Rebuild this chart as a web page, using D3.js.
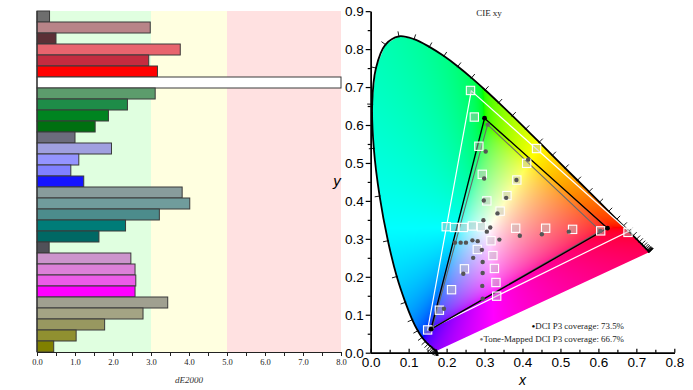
<!DOCTYPE html>
<html><head><meta charset="utf-8">
<script src="https://cdn.jsdelivr.net/npm/d3@7"></script>
<style>html,body{margin:0;padding:0;background:#fff;} svg{display:block}</style>
</head><body>
<svg id="c" width="693" height="390"></svg>
<script>
// ---------- data: dE2000 bar chart ----------
const patchColors = ["#6e6e6e","#b88488","#5c3036","#e8646e","#c42c40","#ff0000","#ffffff",
  "#5c9c6c","#1e8c48","#008420","#007010","#6c6c7c","#a0a0e0","#9494ff","#8080ff","#1414ff",
  "#889c9c","#709c9c","#4c8c8c","#007c78","#006864","#505058","#cc94cc","#dc80d8","#ec5ce8",
  "#ff00ff","#a0a090","#a4a484","#989860","#909030","#808000"];
const dE2000 = [0.33,2.98,0.50,3.77,2.94,3.17,8.0,3.11,2.38,1.88,1.53,1.00,1.96,1.10,0.89,1.23,
  3.82,4.02,3.22,2.33,1.63,0.32,2.47,2.58,2.60,2.58,3.44,2.79,1.78,1.03,0.44];
const bandStarts = [0,3,5];
const bandEnds = [3,5,8];
const bandFills = ["#e0ffe0","#ffffe0","#ffe1e1"];
const deTicks = [0,0.5,1,1.5,2,2.5,3,3.5,4,4.5,5,5.5,6,6.5,7,7.5,8];

// ---------- data: CIE xy ----------
const locusNm = [380,385,390,395,400,405,410,415,420,425,430,435,440,445,450,455,460,465,470,475,480,485,490,495,500,505,510,515,520,525,530,535,540,545,550,555,560,565,570,575,580,585,590,595,600,605,610,615,620,625,630,635,640,645,650,655,660,665,670,675,680,685,690,695,700];
const locusX = [0.1741,0.1740,0.1738,0.1736,0.1733,0.1730,0.1726,0.1721,0.1714,0.1703,0.1689,0.1669,0.1644,0.1611,0.1566,0.1510,0.1440,0.1355,0.1241,0.1096,0.0913,0.0687,0.0454,0.0235,0.0082,0.0039,0.0139,0.0389,0.0743,0.1142,0.1547,0.1929,0.2296,0.2658,0.3016,0.3373,0.3731,0.4087,0.4441,0.4788,0.5125,0.5448,0.5752,0.6029,0.6270,0.6482,0.6658,0.6801,0.6915,0.7006,0.7079,0.7140,0.7190,0.7230,0.7260,0.7283,0.7300,0.7311,0.7320,0.7327,0.7334,0.7340,0.7344,0.7346,0.7347];
const locusY = [0.0050,0.0050,0.0049,0.0049,0.0048,0.0048,0.0048,0.0048,0.0051,0.0058,0.0069,0.0086,0.0109,0.0138,0.0177,0.0227,0.0297,0.0399,0.0578,0.0868,0.1327,0.2007,0.2950,0.4127,0.5384,0.6548,0.7502,0.8120,0.8338,0.8262,0.8059,0.7816,0.7543,0.7243,0.6923,0.6589,0.6245,0.5896,0.5547,0.5202,0.4866,0.4544,0.4242,0.3965,0.3725,0.3514,0.3340,0.3197,0.3083,0.2993,0.2920,0.2859,0.2809,0.2770,0.2740,0.2717,0.2700,0.2689,0.2680,0.2673,0.2666,0.2660,0.2656,0.2654,0.2653];

const p3X = [0.680,0.265,0.150];
const p3Y = [0.320,0.690,0.060];
const measGamutX = [0.624,0.300,0.159];
const measGamutY = [0.328,0.618,0.062];
const toneGamutX = [0.605,0.308,0.162];
const toneGamutY = [0.321,0.601,0.064];

const targetX = [0.263,0.273,0.285,0.294,0.306,0.341,0.359,0.385,0.411,0.437,0.199,0.221,0.244,0.268,0.292,0.317,0.281,0.322,0.326,0.247,0.330,0.213,0.332,0.382,0.461,0.532,0.606,0.678,0.181,0.150];
const targetY = [0.691,0.621,0.544,0.470,0.400,0.373,0.414,0.455,0.499,0.538,0.332,0.330,0.330,0.334,0.332,0.295,0.272,0.256,0.222,0.221,0.185,0.166,0.149,0.328,0.328,0.325,0.321,0.317,0.112,0.060];
const measX = [0.303,0.299,0.298,0.334,0.357,0.384,0.415,0.297,0.315,0.306,0.222,0.237,0.251,0.268,0.282,0.339,0.293,0.270,0.295,0.295,0.244,0.294,0.393,0.451,0.522,0.295,0.193];
const measY = [0.530,0.459,0.401,0.367,0.408,0.455,0.509,0.349,0.330,0.319,0.290,0.290,0.290,0.296,0.294,0.298,0.271,0.250,0.239,0.210,0.208,0.176,0.308,0.312,0.319,0.142,0.116];
const xyTicks = [0,0.1,0.2,0.3,0.4,0.5,0.6,0.7,0.8];
const yTicks = [0,0.1,0.2,0.3,0.4,0.5,0.6,0.7,0.8,0.9];
const legendLabels = ["DCI P3 coverage: 73.5%","Tone-Mapped DCI P3 coverage: 66.7%"];

const svg = d3.select("#c");
svg.append("rect").attr("width",693).attr("height",390).attr("fill","#fff");
const SERIF = "'Liberation Serif','Times New Roman',serif";
const SANS = "'Liberation Sans',Arial,sans-serif";

// ===== Left: bar chart =====
const xDE = d3.scaleLinear().domain([0,8]).range([37,341]);
const yBar = d3.scaleBand().domain(d3.range(dE2000.length)).range([11,352]).padding(0);
const L = svg.append("g");
L.selectAll("rect.band").data(bandStarts).join("rect")
  .attr("x",(d)=>xDE(d)).attr("y",11)
  .attr("width",(d,i)=>xDE(bandEnds[i])-xDE(d)).attr("height",341)
  .attr("fill",(d,i)=>bandFills[i]);
L.selectAll("rect.bar").data(dE2000).join("rect")
  .attr("x",xDE(0)).attr("y",(d,i)=>yBar(i))
  .attr("width",d=>xDE(Math.min(d,8))-xDE(0)).attr("height",yBar.bandwidth())
  .attr("fill",(d,i)=>patchColors[i]).attr("stroke","#3a3a3a").attr("stroke-width",1);
L.append("line").attr("x1",37).attr("x2",37).attr("y1",11).attr("y2",352).attr("stroke","#333").attr("stroke-width",1.2);
const axL = L.append("g").attr("transform","translate(0,352)")
  .call(d3.axisBottom(xDE).tickValues(deTicks).tickSize(4).tickSizeOuter(0).tickPadding(3)
    .tickFormat(d=> Number.isInteger(d)? d.toFixed(1):""));
axL.select(".domain").attr("stroke","#222").attr("stroke-width",1.2);
axL.selectAll(".tick line").attr("stroke","#222");
axL.selectAll("text").attr("font-family",SERIF).attr("font-size",8.5).attr("fill","#222");
L.append("text").attr("x",189).attr("y",383).attr("text-anchor","middle")
  .attr("font-family",SERIF).attr("font-style","italic").attr("font-size",9).attr("fill","#333").text("dE2000");

// ===== Right: CIE xy =====
const sx = d3.scaleLinear().domain([0,0.8]).range([370.7,674.3]);
const sy = d3.scaleLinear().domain([0,0.9]).range([352.7,11.15]);
const R = svg.append("g");

// colour fill via canvas
const x0 = Math.floor(sx(0)), x1 = Math.ceil(sx(0.74)), y0 = Math.floor(sy(0.84)), y1 = Math.ceil(sy(0));
const W = x1-x0, H = y1-y0;
const cv = document.createElement("canvas"); cv.width=W; cv.height=H;
const ctx = cv.getContext("2d");
const img = ctx.createImageData(W,H);
const gam = v => v<=0.0031308 ? 12.92*v : 1.055*Math.pow(v,1/2.4)-0.055;
for(let j=0;j<H;j++){
  const yy = sy.invert(y0+j+0.5);
  for(let i=0;i<W;i++){
    const xx = sx.invert(x0+i+0.5);
    const k = (j*W+i)*4;
    const yv = Math.max(yy,0.001);
    const X = xx/yv, Y=1, Z=(1-xx-yv)/yv;
    let r = 3.2406*X-1.5372*Y-0.4986*Z;
    let g = -0.9689*X+1.8758*Y+0.0415*Z;
    let b = 0.0557*X-0.2040*Y+1.0570*Z;
    const mn = Math.min(r,g,b,0);
    r-=mn; g-=mn; b-=mn;
    const m = Math.max(r,g,b,1e-6);
    img.data[k]=Math.round(255*gam(r/m));
    img.data[k+1]=Math.round(255*gam(g/m));
    img.data[k+2]=Math.round(255*gam(b/m));
    img.data[k+3]=255;
  }
}
ctx.putImageData(img,0,0);
const locusPts = locusX.map((x,i)=>[sx(x),sy(locusY[i])]);
R.append("clipPath").attr("id","locclip").append("path")
  .attr("d", d3.line()(locusPts)+"Z");
R.append("image").attr("href",cv.toDataURL()).attr("x",x0).attr("y",y0)
  .attr("width",W).attr("height",H).attr("clip-path","url(#locclip)");

// locus outline
R.append("path").attr("d",d3.line().curve(d3.curveCatmullRom)(locusPts)).attr("fill","none")
  .attr("stroke","#000").attr("stroke-width",1.8);
// wavelength ticks
const tickG = R.append("g").attr("stroke","#000").attr("stroke-width",0.9);
locusPts.forEach((p,i)=>{
  const a = locusPts[Math.max(i-1,0)], b = locusPts[Math.min(i+1,locusPts.length-1)];
  let tx=b[0]-a[0], ty=b[1]-a[1]; const len=Math.hypot(tx,ty);
  if(len<1e-9) return;
  const nx = ty/len, ny = -tx/len;
  tickG.append("line").attr("x1",p[0]-nx*1).attr("y1",p[1]-ny*1)
    .attr("x2",p[0]+nx*5).attr("y2",p[1]+ny*5);
});

// gamut triangles
const tri = (xs,ys)=> d3.line()(xs.map((x,i)=>[sx(x),sy(ys[i])]))+"Z";
R.append("path").attr("d",tri(p3X,p3Y)).attr("fill","none").attr("stroke","#fff").attr("stroke-width",1.2);
R.append("path").attr("d",tri(toneGamutX,toneGamutY)).attr("fill","none").attr("stroke","#6a6a6a").attr("stroke-width",1.1);
R.append("path").attr("d",tri(measGamutX,measGamutY)).attr("fill","none").attr("stroke","#000").attr("stroke-width",1.4);

// target squares
const sq = 8.3;
R.selectAll("rect.tgt").data(targetX).join("rect")
  .attr("x",(d)=>sx(d)-sq/2).attr("y",(d,i)=>sy(targetY[i])-sq/2)
  .attr("width",sq).attr("height",sq)
  .attr("fill","rgba(190,190,190,0.45)").attr("stroke","#fff").attr("stroke-width",1.1);
// measured dots
R.selectAll("circle.m").data(measX).join("circle")
  .attr("cx",d=>sx(d)).attr("cy",(d,i)=>sy(measY[i])).attr("r",2.2).attr("fill","#555");
R.selectAll("circle.tg").data(toneGamutX).join("circle")
  .attr("cx",d=>sx(d)).attr("cy",(d,i)=>sy(toneGamutY[i])).attr("r",2.2).attr("fill","#666");
R.selectAll("circle.mg").data(measGamutX).join("circle")
  .attr("cx",d=>sx(d)).attr("cy",(d,i)=>sy(measGamutY[i])).attr("r",2.4).attr("fill","#000");

// axes
const axY = R.append("g").attr("transform",`translate(${sx(0)},0)`)
  .call(d3.axisLeft(sy).tickValues(yTicks).tickSize(5).tickSizeOuter(0).tickPadding(2).tickFormat(d3.format(".1f")));
const axYm = R.append("g").attr("transform",`translate(${sx(0)},0)`)
  .call(d3.axisLeft(sy).tickValues(yTicks.slice(0,-1).map(v=>v+0.05)).tickSize(3).tickSizeOuter(0).tickFormat(""));
const axX = R.append("g").attr("transform",`translate(0,${sy(0)})`)
  .call(d3.axisBottom(sx).tickValues(xyTicks).tickSize(-4).tickSizeOuter(0).tickPadding(5).tickFormat(d3.format(".1f")));
const axXm = R.append("g").attr("transform",`translate(0,${sy(0)})`)
  .call(d3.axisBottom(sx).tickValues(xyTicks.slice(0,-1).map(v=>v+0.05)).tickSize(-3).tickSizeOuter(0).tickFormat(""));
[axY,axYm,axX,axXm].forEach(a=>{
  a.select(".domain").attr("stroke","#000").attr("stroke-width",1.4);
  a.selectAll(".tick line").attr("stroke","#000").attr("stroke-width",1.2);
  a.selectAll("text").attr("font-family",SANS).attr("font-size",13.5).attr("fill","#000");
});

R.append("text").attr("x",sx(0.4)).attr("y",385).attr("text-anchor","middle")
  .attr("font-family",SANS).attr("font-style","italic").attr("font-size",14).text("x");
R.append("text").attr("x",337).attr("y",sy(0.45)+4).attr("text-anchor","middle")
  .attr("font-family",SANS).attr("font-style","italic").attr("font-size",15).text("y");
R.append("text").attr("x",489).attr("y",16).attr("text-anchor","middle")
  .attr("font-family",SERIF).attr("font-size",9).attr("fill","#222").text("CIE xy");

// legend
const legColors = ["#000","#777"];
const legY = [329,342];
legendLabels.forEach((t,i)=>{
  const tx = R.append("text").attr("x",624).attr("y",legY[i]).attr("text-anchor","end")
    .attr("font-family",SERIF).attr("font-size",8.9).attr("fill","#222");
  tx.append("tspan").attr("fill",legColors[i]).attr("font-size",11).attr("dy",1).text("\u2022");
  tx.append("tspan").attr("dy",-1).text(t);
});
</script>
</body></html>
